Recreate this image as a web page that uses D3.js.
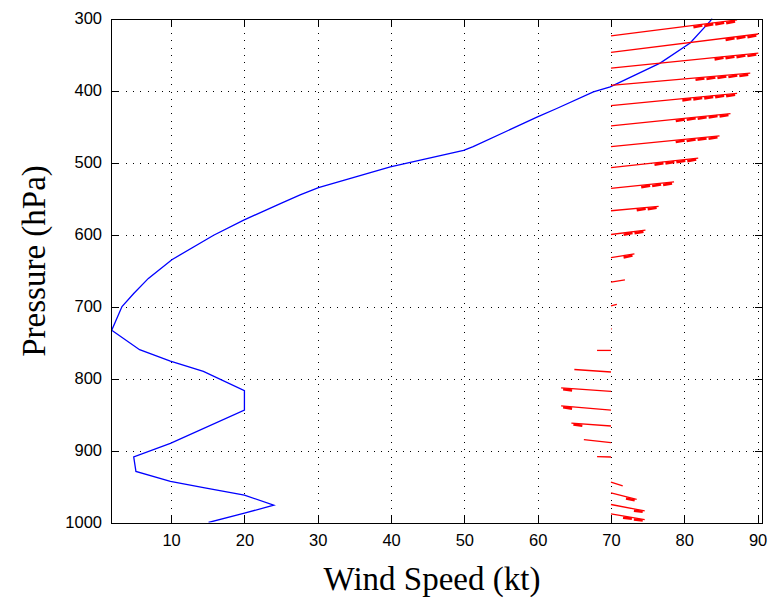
<!DOCTYPE html>
<html lang="en">
<head>
<meta charset="UTF-8" />
<title>Wind Speed Profile</title>
<style>
    body { margin: 0; background: #fff; }
    .grid line { stroke: #000; stroke-width: 1; stroke-dasharray: 1, 6.3; shape-rendering: crispEdges; }
    .axis path, .axis line { stroke: #000; stroke-width: 1; shape-rendering: crispEdges; }
    .axis text { font-family: "Liberation Sans", Arial, sans-serif; font-size: 16.5px; fill: #000; }
    .label { font-family: "Liberation Serif", "Times New Roman", serif; font-size: 33px; fill: #000; }
    .profile { fill: none; stroke: #0000ff; stroke-width: 1.3; }
    .barb { stroke: #ff0000; stroke-width: 1.3; fill: none; }
    .feather { stroke: #ff0000; stroke-width: 2.6; fill: none; }
</style>
</head>
<body>
<svg width="775" height="601"></svg>
<script src="https://d3js.org/d3.v7.min.js"></script>
<script>
// wind speed profile (kt) by pressure level (hPa)
const pressure = [1000, 987, 976, 962, 952, 943, 929, 909, 890, 844, 817, 790, 776, 760, 733, 700, 682, 661, 635, 601,
    580, 557, 545, 535, 506, 483, 478, 437, 425, 402, 395, 362, 334, 304, 300];
const speed = [15.1, 20, 24, 20, 14.6, 9.9, 5.2, 4.9, 9.9, 20, 20, 14.4, 9.9, 5.7, 1.9, 3.3, 4.9, 6.9, 10.1, 15.8,
    19.9, 24.9, 27.6, 30.1, 39.9, 49.9, 51.2, 59.9, 62.6, 67.6, 69.9, 76.7, 80.8, 83.5, 83.8];

// wind barbs, drawn from the 70 kt line
const barbBase = 70;
const barbP = [324, 347, 369, 393, 421, 449, 478, 507, 536, 567, 600, 632, 666, 699, 731, 761, 791, 818, 844, 866,
    889, 909, 928, 944, 959, 975, 988];
const barbTipX = [87.2, 90.1, 90.1, 89.0, 87.2, 86.3, 84.8, 81.9, 78.6, 76.5, 74.7, 73.2, 71.9, 70.8, 70.1, 68.1, 65.0,
    63.2, 63.2, 64.6, 66.3, 68.1, 70.0, 71.6, 73.5, 74.6, 74.6];
const barbTipP = [302, 321.5, 348, 376, 404, 432, 463, 494, 527, 561, 594, 627, 663, 697, 731, 761, 787.5, 813, 838, 862,
    885, 908.6, 928, 949, 968, 984, 996];
const barbFeathers = [4, 3, 4, 5, 5, 5, 4, 4, 3, 2, 2, 1, 0, 0, 0, 0, 0, 1, 1, 1, 0, 0, 0, 0, 1, 1, 2];

const xTicks = [10, 20, 30, 40, 50, 60, 70, 80, 90];
const yTicks = [300, 400, 500, 600, 700, 800, 900, 1000];
const xLimits = [1.8, 90.6];
const yLimits = [300, 1000];

const svg = d3.select('svg');
const margin = { left: 111, right: 13, top: 18.5, bottom: 78.5 };
const width = 775 - margin.left - margin.right,
    height = 601 - margin.top - margin.bottom;

const x = d3.scaleLinear().domain(xLimits).range([0, width]);
const y = d3.scaleLinear().domain(yLimits).range([0, height]);

const g = svg.append('g').attr('transform', `translate(${margin.left},${margin.top})`);

g.append('clipPath').attr('id', 'clip').append('rect').attr('width', width).attr('height', height);

// grid
const grid = g.append('g').attr('class', 'grid');
grid.selectAll('.gx').data(xTicks).enter().append('line')
    .attr('x1', (d) => Math.round(x(d)) + 0.5).attr('x2', (d) => Math.round(x(d)) + 0.5)
    .attr('y1', 0).attr('y2', height);
grid.selectAll('.gy').data(yTicks.slice(1, -1)).enter().append('line')
    .attr('y1', (d) => Math.round(y(d)) + 0.5).attr('y2', (d) => Math.round(y(d)) + 0.5)
    .attr('x1', 0).attr('x2', width);

const plot = g.append('g').attr('clip-path', 'url(#clip)');

// profile line
const line = d3.line().x((d, i) => x(speed[i])).y((d) => y(d));
plot.append('path').datum(pressure).attr('class', 'profile').attr('d', line);

// barbs
const barbs = barbP.map((p, i) => ({
    bx: x(barbBase), by: y(p),
    tx: x(barbTipX[i]), ty: y(barbTipP[i]),
    n: barbFeathers[i]
}));
plot.selectAll('.barb').data(barbs).enter().append('line').attr('class', 'barb')
    .attr('x1', (d) => d.bx).attr('y1', (d) => d.by)
    .attr('x2', (d) => d.tx).attr('y2', (d) => d.ty);

// feathers: short thick strokes hanging just under the staff near its tip
const feathers = [];
barbs.forEach((b) => {
    const dx = b.tx - b.bx, dy = b.ty - b.by;
    const len = Math.hypot(dx, dy);
    if (len < 1) return;
    const ux = dx / len, uy = dy / len;
    const gap = 11, flen = 9;
    for (let k = 0; k < b.n; k++) {
        const s0 = len - 2 - k * gap;
        const s1 = Math.max(s0 - flen, 0);
        feathers.push([
            [b.bx + ux * s0, b.by + uy * s0 + 1.2],
            [b.bx + ux * s1, b.by + uy * s1 + 1.8]
        ]);
    }
});
plot.selectAll('.feather').data(feathers).enter().append('line').attr('class', 'feather')
    .attr('x1', (d) => d[0][0]).attr('y1', (d) => d[0][1])
    .attr('x2', (d) => d[1][0]).attr('y2', (d) => d[1][1]);

// axes (ticks inward, box)
g.append('g').attr('class', 'axis').attr('transform', `translate(0,${height})`)
    .call(d3.axisBottom(x).tickValues(xTicks).tickSizeInner(-7).tickSizeOuter(0).tickPadding(12));
g.append('g').attr('class', 'axis')
    .call(d3.axisTop(x).tickValues(xTicks).tickSizeInner(-7).tickSizeOuter(0).tickFormat(''));
g.append('g').attr('class', 'axis')
    .call(d3.axisLeft(y).tickValues(yTicks).tickSizeInner(-7).tickSizeOuter(0).tickPadding(9).tickFormat(d3.format('d')));
g.append('g').attr('class', 'axis').attr('transform', `translate(${width},0)`)
    .call(d3.axisRight(y).tickValues(yTicks).tickSizeInner(-7).tickSizeOuter(0).tickFormat(''));

// labels
svg.append('text').attr('class', 'label').attr('x', 432).attr('y', 590)
    .attr('text-anchor', 'middle').text('Wind Speed (kt)');
svg.append('text').attr('class', 'label')
    .attr('transform', 'translate(45,261) rotate(-90)')
    .attr('text-anchor', 'middle').text('Pressure (hPa)');
</script>
</body>
</html>
